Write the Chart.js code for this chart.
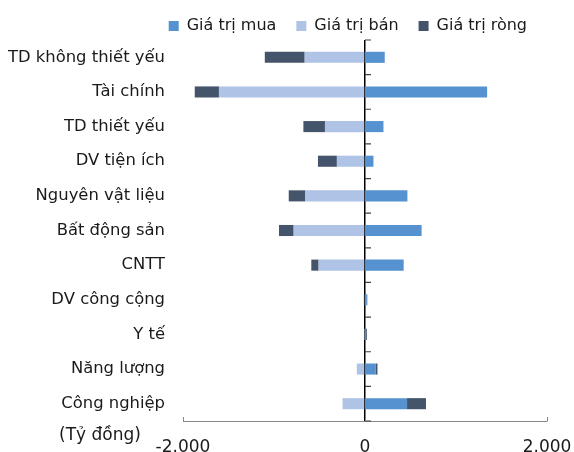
<!DOCTYPE html>
<html>
<head>
<meta charset="utf-8">
<script src="https://cdn.jsdelivr.net/npm/chart.js@4"></script>
<style>
  body { margin: 0; background: #fff; }
  #wrap { width: 574px; height: 452px; }
</style>
</head>
<body>
<div id="wrap"><canvas id="mycanvas" width="574" height="452"></canvas></div>
<script>
var sectors = ['TD không thiết yếu', 'Tài chính', 'TD thiết yếu', 'DV tiện ích', 'Nguyên vật liệu',
  'Bất động sản', 'CNTT', 'DV công cộng', 'Y tế', 'Năng lượng', 'Công nghiệp'];
var buyValues = [217, 1342, 203, 93, 466, 622, 425, 20, 12, 115, 462];
var sellValues = [-663, -1605, -440, -309, -655, -784, -510, -15, -3, -90, -247];
var netValues = [-438, -266, -237, -208, -183, -161, -80, 5, 9, 22, 208];
var xTicks = [-2000, 0, 2000];
var unitLabel = '(Tỷ đồng)';

var fontFamily = '"DejaVu Sans", Verdana, sans-serif';
Chart.defaults.font.family = fontFamily;
Chart.defaults.font.size = 16;
Chart.defaults.color = '#1a1a1a';

function fmt(v) {
  var s = Math.abs(v).toString().replace(/\B(?=(\d{3})+(?!\d))/g, '.');
  return (v < 0 ? '-' : '') + s;
}

// legend height trimmed so the plot starts right under it
var legendFit = {
  id: 'legendFit',
  beforeInit: function(chart) {
    var orig = chart.legend.fit;
    chart.legend.fit = function() {
      orig.call(this);
      this.height = 42;
    };
  }
};

// small tick marks on the zero line and the unit label
var extras = {
  id: 'extras',
  afterDraw: function(chart) {
    var ctx = chart.ctx;
    var x = chart.scales.x, y = chart.scales.y;
    var x0 = x.getPixelForValue(0);
    var n = sectors.length;
    ctx.save();
    ctx.strokeStyle = '#404040';
    ctx.lineWidth = 1.2;
    ctx.beginPath();
    for (var i = 0; i <= n; i++) {
      var py;
      if (i === 0) py = y.top;
      else if (i === n) py = y.bottom;
      else py = (y.getPixelForTick(i - 1) + y.getPixelForTick(i)) / 2;
      ctx.moveTo(x0, py);
      ctx.lineTo(x0 + 6, py);
    }
    ctx.stroke();
    ctx.strokeStyle = '#868686';
    ctx.lineWidth = 1;
    ctx.beginPath();
    xTicks.forEach(function(v) {
      var px = Math.round(x.getPixelForValue(v)) + 0.5;
      ctx.moveTo(px, y.bottom - 4);
      ctx.lineTo(px, y.bottom);
    });
    ctx.stroke();
    ctx.fillStyle = '#1a1a1a';
    ctx.font = '17px ' + fontFamily;
    ctx.textAlign = 'left';
    ctx.textBaseline = 'middle';
    ctx.fillText(unitLabel, 59, 436);
    ctx.restore();
  }
};

var chartdata = {
  labels: sectors,
  datasets: [
    { label: 'Giá trị mua', backgroundColor: '#5592CF', data: buyValues },
    { label: 'Giá trị bán', backgroundColor: '#AEC3E6', data: sellValues },
    { label: 'Giá trị ròng', backgroundColor: '#44546A', data: netValues }
  ]
};

var ctx = document.getElementById('mycanvas');
var barGraph = new Chart(ctx, {
  type: 'bar',
  data: chartdata,
  plugins: [legendFit, extras],
  options: {
    indexAxis: 'y',
    responsive: false,
    animation: false,
    layout: { padding: { left: 0, right: 27, top: -2, bottom: 0 } },
    datasets: { bar: { barPercentage: 0.32, categoryPercentage: 1, borderWidth: 0 } },
    plugins: {
      tooltip: { enabled: false },
      legend: {
        position: 'top',
        align: 'end',
        labels: { boxWidth: 10, boxHeight: 10, padding: 20, color: '#1a1a1a', font: { size: 16 } }
      }
    },
    scales: {
      x: {
        stacked: true,
        min: -2000,
        max: 2000,
        z: 1,
        afterBuildTicks: function(scale) {
          scale.ticks = xTicks.map(function(v) { return { value: v }; });
        },
        afterFit: function(scale) {
          scale.height = 31;
          scale.paddingLeft = 0;
          scale.paddingRight = 0;
        },
        grid: {
          drawTicks: false,
          lineWidth: 1.5,
          color: function(c) { return c.tick && c.tick.value === 0 ? '#000' : 'rgba(0,0,0,0)'; }
        },
        border: { display: true, color: '#868686', width: 1 },
        ticks: { padding: 16, maxRotation: 0, font: { size: 17 }, callback: function(v) { return fmt(v); } }
      },
      y: {
        stacked: true,
        afterFit: function(scale) {
          scale.width = 183;
          scale.paddingTop = 0;
          scale.paddingBottom = 0;
        },
        grid: { display: false, drawTicks: false },
        border: { display: false },
        ticks: { padding: 18, autoSkip: false, font: { size: 16.4 } }
      }
    }
  }
});
</script>
</body>
</html>
